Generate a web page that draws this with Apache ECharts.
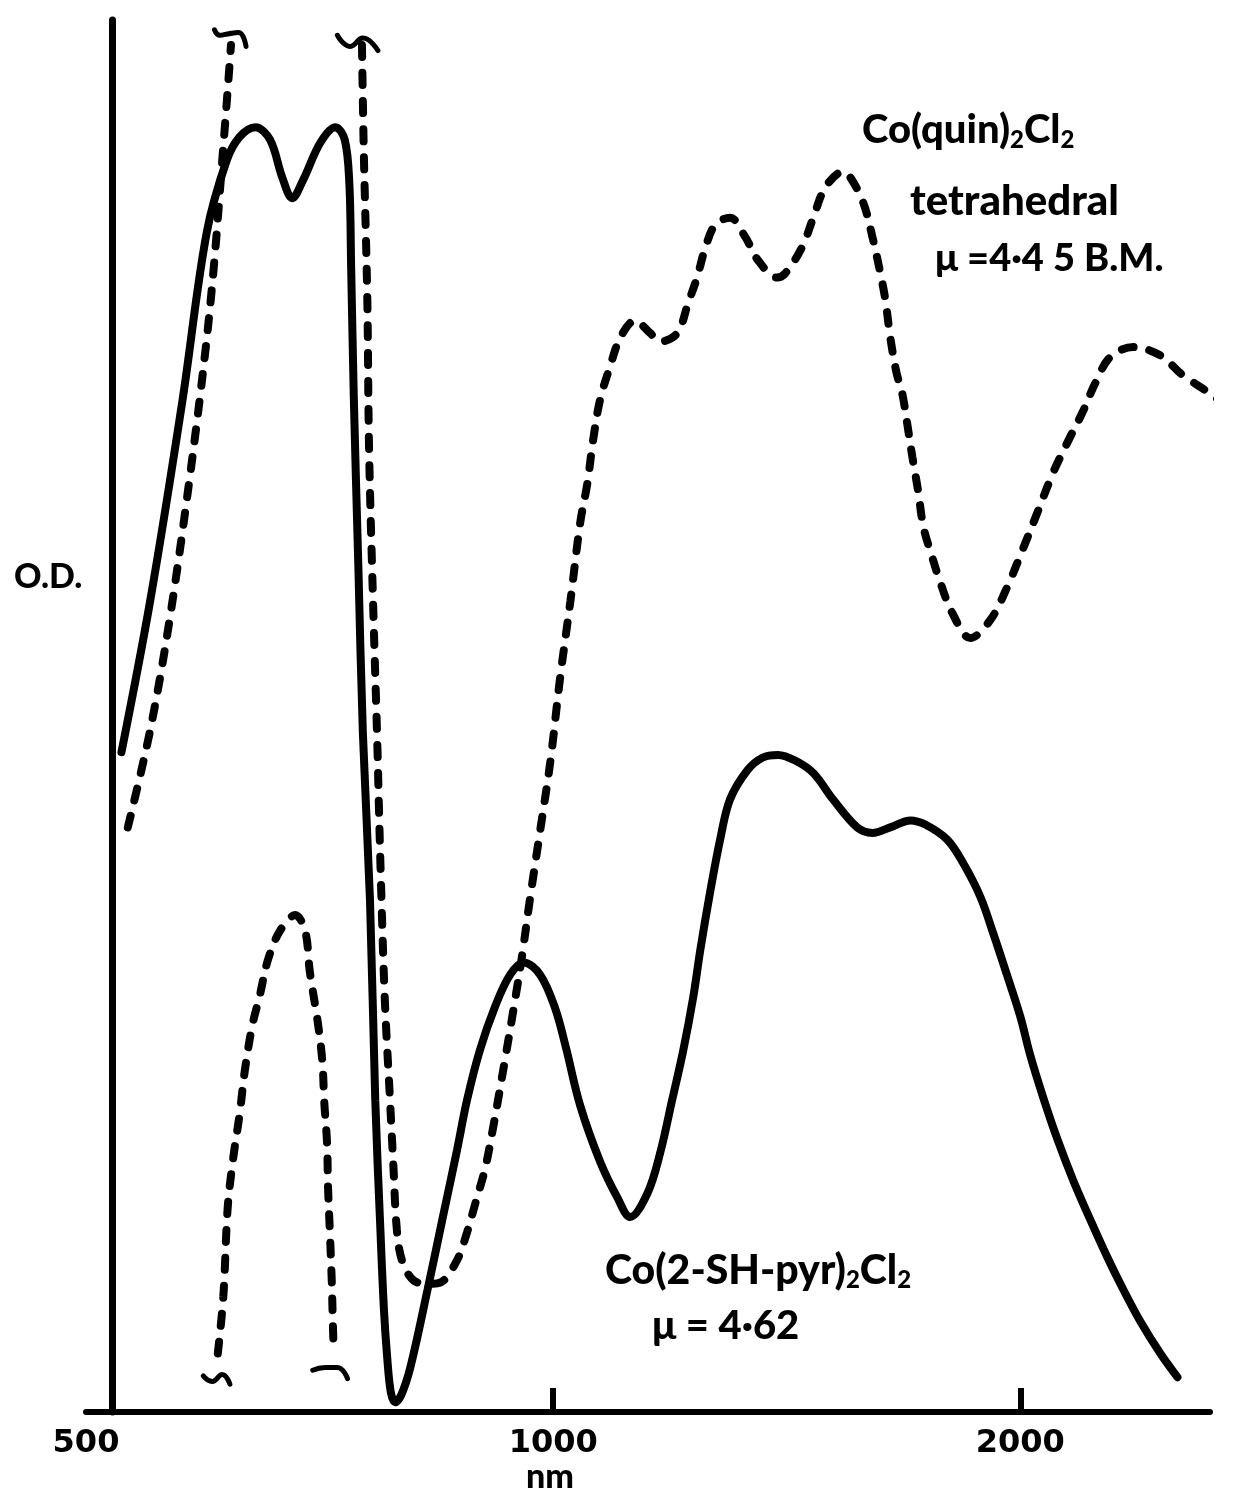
<!DOCTYPE html>
<html>
<head>
<meta charset="utf-8">
<script src="https://cdn.jsdelivr.net/npm/echarts@6/dist/echarts.min.js"></script>
<style>
html,body{margin:0;padding:0;background:#fff;}
#chart{width:1244px;height:1494px;}
</style>
</head>
<body>
<div id="chart"></div>
<script>
// Wavelength (nm) and optical density (arbitrary units, 0-100)
const nmSolid = [527,550,577,598,616,628,643,657,669,679,690,708,724,734,739,741,744,749,754,762,768,774,778,782,786,791,798,809,830,849,867,880,897,918,938,957,981,1003,1019,1041,1072,1100,1121,1150,1172,1193,1213,1231,1244,1262,1281,1300,1334,1364,1396,1432,1471,1515,1570,1606,1649,1699,1737,1795,1838,1885,1921,1962,2000,2030,2069,2113,2164,2219,2276,2330,2390,2462,2525];
const odSolid = [47.4,58.3,72.7,84.7,89.9,91.6,92.3,91.4,88.7,87.2,88.5,91.2,92.3,91.4,88.3,82.3,72.7,60.7,48.8,36.8,22.4,12.9,7.3,3.7,1.4,0.7,1.2,3.2,8.8,14.0,18.8,22.4,26.0,29.2,31.4,32.3,31.4,29.0,26.2,22.0,18.0,15.4,14.0,15.7,18.6,22.4,26.0,29.8,33.2,37.3,41.1,44.0,46.1,47.0,47.2,46.8,45.9,44.0,42.0,41.6,42.0,42.5,42.2,41.1,39.4,37.0,34.4,31.3,28.4,25.6,22.6,19.6,16.6,13.8,11.1,8.8,6.5,4.2,2.5];

// Co(quin)2Cl2 dashed curve, three pieces
const nmDashA = [532,550,566,583,597,605,612,617,620];
const odDashA = [42.0,49.0,56.9,67.0,76.3,82.8,89.9,95.0,98.2];

const nmDashB = [608,613,617,622,628,633,640,647,655,667,682,692,697,705,710,712,715,716,718,720,721,722];
const odDashB = [4.2,8.3,14.7,18.2,21.4,24.6,27.8,29.9,32.5,34.6,35.7,34.6,31.6,28.1,25.2,22.3,19.3,16.2,12.9,9.4,6.8,4.5];

const nmDashC = [753,755,759,761,766,770,774,779,785,789,793,799,812,830,846,867,880,891,904,915,931,945,955,966,981,996,1010,1026,1041,1052,1061,1072,1088,1105,1129,1155,1172,1202,1222,1238,1253,1272,1300,1330,1354,1394,1411,1447,1471,1498,1538,1554,1584,1606,1625,1637,1649,1664,1679,1691,1704,1719,1732,1755,1776,1808,1857,1913,1962,2006,2051,2100,2148,2193,2235,2286,2365,2462,2544,2632,2699,2789];
const odDashC = [98.2,90.7,79.9,69.1,57.1,48.8,39.2,29.6,22.4,17.6,13.1,10.9,9.5,9.2,9.3,10.9,12.9,15.0,17.5,20.5,25.3,29.6,32.8,36.8,41.8,46.8,52.6,58.3,63.9,66.7,69.8,72.7,75.1,77.2,78.4,77.5,76.9,77.5,79.7,81.5,83.6,85.3,85.8,84.4,82.8,81.5,81.8,83.7,85.8,88.0,89.1,88.7,86.9,84.4,81.8,79.9,77.2,74.7,73.1,71.0,68.6,66.1,63.6,61.4,59.6,57.4,55.6,56.9,59.3,61.9,64.6,67.5,69.8,71.8,73.9,75.8,76.5,75.9,74.5,73.4,72.5,71.1];

// scale-break marks at the ends of the dashed pieces
const nmBreak1 = [605,610,617,627,634];
const odBreak1 = [99.3,98.9,99.0,99.1,98.1];
const nmBreak2 = [726,740,754,771];
const odBreak2 = [98.9,98.1,98.7,97.8];
const nmBreak3 = [595,603,612,619];
const odBreak3 = [2.6,2.2,2.7,2.0];
const nmBreak4 = [700,713,726,737];
const odBreak4 = [3.0,3.2,3.2,2.4];

const xTickValues = [1000,2000];
const xLabelValues = [500,1000,2000];

const pair = (xs, ys) => xs.map((x, i) => [x, ys[i]]);

const FONT = 'Lato, "DejaVu Sans", sans-serif';

function dashed(name, xs, ys) {
  return {
    name, type: 'line', data: pair(xs, ys), smooth: 0.35, showSymbol: false, clip: false,
    lineStyle: {color: '#000', width: 8, type: [12, 16], cap: 'round'}
  };
}
function mark(xs, ys) {
  return {
    type: 'line', data: pair(xs, ys), smooth: 0.5, showSymbol: false, clip: false,
    lineStyle: {color: '#000', width: 5, cap: 'round'}
  };
}

const chart = echarts.init(document.getElementById('chart'));
chart.setOption({
  animation: false,
  backgroundColor: '#fff',
  grid: {left: 86, right: 34, top: 20, bottom: 82, outerBoundsMode: 'none', containLabel: false},
  xAxis: {
    type: 'log', logBase: 2, min: 500, max: 2650,
    axisLine: {lineStyle: {color: '#000', width: 6}},
    axisTick: {inside: true, length: 24, lineStyle: {color: '#000', width: 6}, customValues: xTickValues},
    axisLabel: {customValues: xLabelValues, color: '#000', fontFamily: '"DejaVu Sans", sans-serif', fontWeight: 'bold', fontSize: 32, margin: 16, formatter: v => String(Math.round(v))},
    splitLine: {show: false}
  },
  yAxis: {
    type: 'value', min: 0, max: 100, offset: -26,
    axisLine: {show: true, lineStyle: {color: '#000', width: 7}},
    axisTick: {show: false}, axisLabel: {show: false}, splitLine: {show: false}
  },
  series: [
    {name: 'Co(2-SH-pyr)2Cl2', type: 'line', data: pair(nmSolid, odSolid), smooth: 0.35, showSymbol: false, clip: false,
     lineStyle: {color: '#000', width: 8, cap: 'round'}},
    dashed('Co(quin)2Cl2 a', nmDashA, odDashA),
    dashed('Co(quin)2Cl2 b', nmDashB, odDashB),
    dashed('Co(quin)2Cl2 c', nmDashC, odDashC),
    mark(nmBreak1, odBreak1), mark(nmBreak2, odBreak2), mark(nmBreak3, odBreak3), mark(nmBreak4, odBreak4)
  ],
  graphic: [
    {type: 'text', left: 14, top: 560, style: {text: 'O.D.', font: '900 34px ' + FONT, fill: '#000'}},
    {type: 'text', left: 526, top: 1460, style: {text: 'nm', font: '900 34px ' + FONT, fill: '#000'}},
    {type: 'text', left: 862, top: 110, style: {text: '{a|Co(quin)}{s|2}{a|Cl}{s|2}', rich: {a: {font: '900 40px ' + FONT, fill: '#000'}, s: {font: '900 24px ' + FONT, fill: '#000', padding: [20, 0, 0, 0]}}}},
    {type: 'text', left: 910, top: 180, style: {text: 'tetrahedral', font: '900 42px ' + FONT, fill: '#000'}},
    {type: 'text', left: 935, top: 240, style: {text: 'μ =4·4 5 B.M.', font: '900 38px ' + FONT, fill: '#000'}},
    {type: 'text', left: 605, top: 1250, style: {text: '{a|Co(2-SH-pyr)}{s|2}{a|Cl}{s|2}', rich: {a: {font: '900 41px ' + FONT, fill: '#000'}, s: {font: '900 24px ' + FONT, fill: '#000', padding: [20, 0, 0, 0]}}}},
    {type: 'text', left: 652, top: 1306, style: {text: 'μ = 4·62', font: '900 40px ' + FONT, fill: '#000'}}
  ]
});
</script>
</body>
</html>
